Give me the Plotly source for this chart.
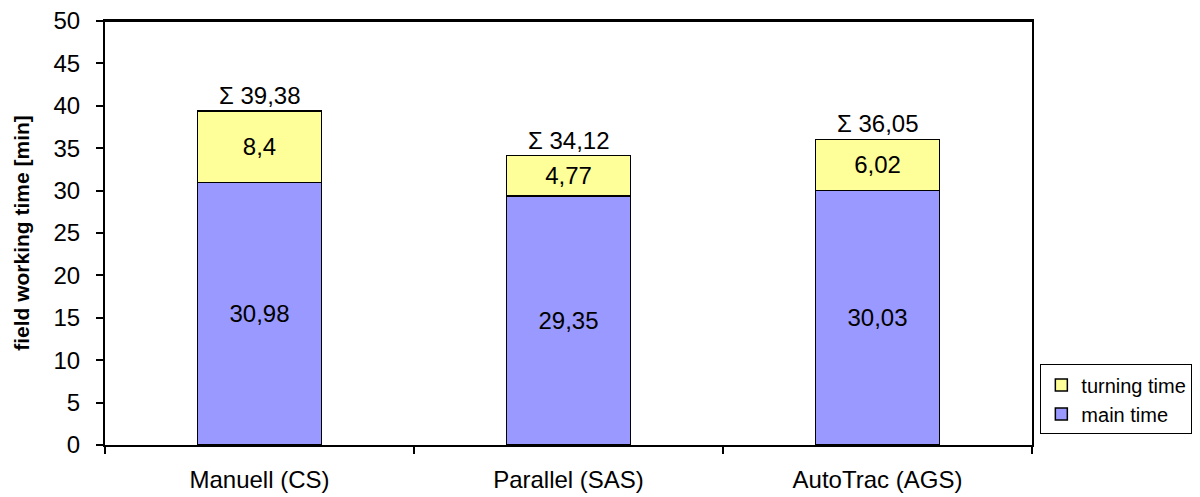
import plotly.graph_objects as go

categories = ["Manuell (CS)", "Parallel (SAS)", "AutoTrac (AGS)"]
main_time = [30.98, 29.35, 30.03]
turning_time = [8.4, 4.77, 6.02]
totals = [39.38, 34.12, 36.05]
y_ticks = [0, 5, 10, 15, 20, 25, 30, 35, 40, 45, 50]

FONT = "Liberation Sans, Arial, sans-serif"
FS = 24

def fmt(v):
    s = ("%.2f" % v).rstrip("0").rstrip(".")
    return s.replace(".", ",")

fig = go.Figure()
fig.add_trace(go.Bar(
    x=categories, y=main_time, name="main time",
    marker=dict(color="#9999FF", line=dict(color="black", width=1.5)),
    text=[fmt(v) for v in main_time], textposition="inside", insidetextanchor="middle",
    textfont=dict(family=FONT, size=FS, color="black"), width=0.4,
))
fig.add_trace(go.Bar(
    x=categories, y=turning_time, name="turning time",
    marker=dict(color="#FFFF99", line=dict(color="black", width=1.5)),
    text=[fmt(v) for v in turning_time], textposition="inside", insidetextanchor="middle",
    textfont=dict(family=FONT, size=FS, color="black"), width=0.4,
))

for c, t in zip(categories, totals):
    fig.add_annotation(x=c, y=t, text="Σ " + fmt(t), showarrow=False,
                       yanchor="bottom", yshift=0,
                       font=dict(family=FONT, size=FS, color="black"))

fig.update_layout(
    barmode="stack",
    width=1192, height=489,
    margin=dict(l=97, r=168, t=13, b=52, autoexpand=False),
    plot_bgcolor="white", paper_bgcolor="white",
    font=dict(family=FONT, size=FS, color="black"),
    showlegend=True,
    legend=dict(x=1.009, y=0.19, xanchor="left", yanchor="top",
                traceorder="reversed", bordercolor="black", borderwidth=1,
                font=dict(family=FONT, size=20, color="black"),
                itemwidth=30, tracegroupgap=0),
    bargap=0.6,
)
fig.update_xaxes(showline=True, linecolor="black", linewidth=2, mirror=True,
                 ticks="outside", tickson="boundaries", ticklen=7, tickcolor="black",
                 tickwidth=1.5, ticklabelstandoff=12, automargin=False,
                 tickfont=dict(family=FONT, size=FS))
fig.update_yaxes(range=[0, 50], tickvals=y_ticks, showline=True, linecolor="black",
                 linewidth=2, mirror=True, ticks="outside", ticklen=7, tickcolor="black",
                 tickwidth=1.5, showgrid=False, zeroline=False, automargin=False,
                 ticklabelstandoff=11, ticklabeloverflow="allow",
                 tickfont=dict(family=FONT, size=FS),
                 title=dict(text="<b>field working time [min]</b>",
                            font=dict(family=FONT, size=21), standoff=18))
fig.add_shape(type="line", xref="paper", yref="paper", x0=0, x1=1, y0=1, y1=1,
              line=dict(color="black", width=2), layer="above")

fig.write_html("out.html")
